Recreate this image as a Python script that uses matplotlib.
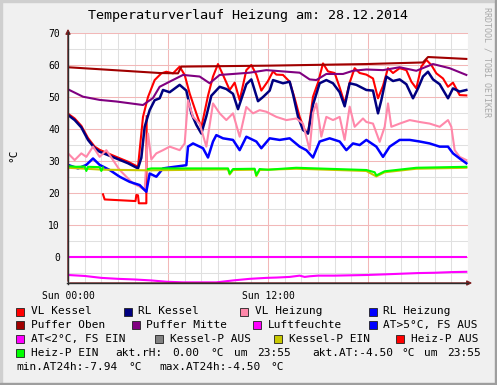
import numpy as np
import matplotlib
matplotlib.use("Agg")
import matplotlib.pyplot as plt
from matplotlib.patches import Rectangle

# ---------------- data (hours since Sun 00:00, °C) ----------------
vl_kessel_t = [0, 0.4, 0.8, 1.2, 1.6, 1.9, 2.9, 3.6, 4.2, 4.5, 4.8, 5.2, 5.6, 5.9, 6.3, 6.7, 7.0, 7.3, 7.7, 8.0,
               8.4, 8.7, 9.0, 9.3, 9.7, 10.0, 10.3, 10.7, 11.0, 11.3, 11.6, 12.0, 12.3, 12.5, 12.9, 13.3, 13.6,
               13.9, 14.2, 14.4, 14.7, 15.0, 15.3, 15.6, 16.0, 16.3, 16.6, 16.9, 17.2, 17.5, 17.9, 18.3, 18.6,
               18.9, 19.2, 19.5, 19.9, 20.3, 20.6, 20.9, 21.2, 21.5, 21.8, 22.1, 22.5, 22.8, 23.1, 23.5, 23.9]
vl_kessel_v = [44.8, 43.3, 41.0, 37.2, 34.5, 33.5, 31.3, 29.8, 28.2, 43.8, 50.0, 55.3, 57.4, 57.9, 57.4, 59.5, 56.9,
               51.1, 44.9, 40.5, 50.4, 56.4, 60.3, 56.9, 52.2, 54.5, 49.0, 58.4, 60.0, 57.0, 52.0, 55.0, 58.0, 57.0,
               56.9, 54.8, 49.6, 43.8, 39.7, 38.6, 50.1, 54.5, 60.5, 58.0, 57.5, 53.0, 48.0, 54.5, 59.0, 57.5, 57.0,
               55.8, 49.6, 53.5, 59.0, 57.5, 59.0, 58.4, 54.8, 52.7, 59.5, 61.6, 60.0, 57.4, 55.8, 53.2, 54.5, 50.6,
               50.5]

rl_kessel_t = [0, 0.4, 0.8, 1.2, 1.6, 1.9, 2.9, 3.6, 4.2, 4.4, 4.6, 4.9, 5.2, 5.5, 5.7, 6.1, 6.7, 7.1, 7.4, 7.7,
               8.0, 8.3, 8.6, 9.1, 9.5, 9.9, 10.2, 10.7, 11.0, 11.4, 11.7, 12.1, 12.3, 12.9, 13.3, 13.5, 13.8,
               14.1, 14.4, 14.7, 15.1, 15.5, 15.9, 16.3, 16.6, 16.9, 17.3, 17.9, 18.3, 18.6, 18.8, 19.1, 19.5,
               19.9, 20.3, 20.7, 21.0, 21.3, 21.6, 21.9, 22.3, 22.8, 23.1, 23.5, 23.9]
rl_kessel_v = [44.4, 42.8, 40.5, 36.6, 34.0, 32.9, 30.8, 29.3, 27.7, 31.0, 40.7, 45.9, 49.0, 49.6, 52.2, 51.5, 53.8,
               52.0, 44.9, 41.3, 38.6, 44.0, 50.4, 53.2, 52.5, 51.0, 46.2, 54.0, 55.5, 48.7, 50.0, 52.0, 55.3, 54.3,
               54.8, 50.9, 43.9, 39.7, 38.6, 47.6, 54.3, 55.3, 54.3, 51.5, 47.1, 54.3, 53.8, 52.2, 52.0, 44.9, 49.0,
               56.4, 55.0, 55.5, 54.0, 49.6, 52.7, 56.4, 57.9, 55.5, 54.0, 49.6, 52.7, 51.7, 52.2]

vl_heizung_t = [0, 0.4, 0.8, 1.1, 1.5, 1.9, 2.3, 2.7, 3.1, 3.5, 3.9, 4.3, 4.6, 4.8, 5.0, 5.3, 5.7, 6.1, 6.7, 7.0,
                7.2, 7.5, 7.9, 8.3, 8.7, 9.1, 9.5, 9.9, 10.3, 10.7, 11.1, 11.5, 11.9, 12.5, 13.1, 13.7, 14.1, 14.5,
                14.7, 14.9, 15.2, 15.5, 15.9, 16.3, 16.6, 16.9, 17.2, 17.7, 17.9, 18.3, 18.7, 19.0, 19.2, 19.4,
                19.9, 20.5, 21.1, 21.7, 22.3, 22.8, 23.0, 23.2, 23.5, 23.9]
vl_heizung_v = [32.4, 30.3, 32.4, 31.3, 34.5, 31.3, 33.4, 30.3, 27.2, 25.1, 23.0, 22.0, 20.9, 38.6, 30.5, 32.4,
                33.4, 34.5, 33.4, 35.5, 49.0, 43.8, 41.7, 34.5, 48.0, 44.9, 42.8, 44.9, 37.6, 46.9, 44.9, 45.9,
                45.4, 43.8, 42.8, 43.3, 41.7, 33.4, 45.0, 48.0, 37.6, 43.8, 42.8, 43.8, 36.6, 47.0, 40.7, 43.3,
                42.2, 41.7, 36.0, 40.7, 48.0, 40.7, 41.7, 42.8, 42.2, 41.7, 40.7, 42.8, 40.7, 33.4, 31.3, 30.3]

rl_heizung_t = [0, 0.6, 1.1, 1.5, 1.9, 2.5, 3.1, 3.7, 4.3, 4.7, 4.9, 5.3, 5.7, 6.1, 7.1, 7.2, 7.5, 8.1, 8.4, 8.7,
                8.9, 9.3, 9.9, 10.3, 10.7, 11.3, 11.6, 12.1, 12.7, 13.3, 13.9, 14.3, 14.7, 15.1, 15.7, 16.3, 16.7,
                17.1, 17.5, 17.9, 18.5, 18.9, 19.3, 19.9, 20.5, 21.1, 21.7, 22.3, 22.8, 23.1, 23.5, 23.9]
rl_heizung_v = [28.8, 27.7, 28.8, 30.8, 28.8, 27.2, 25.1, 23.5, 22.5, 20.4, 26.1, 25.1, 27.7, 28.0, 28.7, 34.5,
                35.5, 34.0, 31.1, 36.1, 38.1, 37.1, 36.6, 33.4, 37.6, 36.1, 34.0, 37.1, 36.6, 37.1, 34.5, 33.4,
                31.1, 36.1, 37.1, 36.1, 33.4, 35.5, 35.0, 36.6, 34.5, 31.3, 34.5, 36.6, 36.6, 36.1, 35.5, 34.5,
                34.5, 32.4, 30.8, 29.3]

puffer_oben_t = [0, 5.5, 6.6, 6.8, 12.0, 17.9, 21.3, 21.6, 23.9]
puffer_oben_v = [59.3, 57.5, 57.4, 59.5, 59.8, 60.3, 60.8, 62.5, 61.9]

puffer_mitte_t = [0, 0.9, 1.9, 2.9, 4.5, 5.1, 5.5, 6.1, 6.9, 7.9, 8.5, 9.1, 9.9, 10.9, 11.9, 13.9, 14.5, 14.9,
                  15.5, 16.5, 17.1, 17.9, 18.9, 19.9, 20.9, 21.9, 22.9, 23.9]
puffer_mitte_v = [52.4, 50.1, 49.1, 48.6, 47.5, 49.7, 53.2, 54.8, 56.9, 56.4, 54.3, 56.9, 57.2, 57.6, 58.4, 57.6,
                  55.5, 55.3, 57.2, 57.2, 58.2, 58.6, 58.4, 59.3, 58.2, 60.3, 59.0, 56.9]

luftfeuchte_t = [0, 23.9]
luftfeuchte_v = [0.0, 0.0]

at_t = [0, 1, 2, 3, 4, 5, 5.9, 6.9, 8, 8.9, 9.9, 10.9, 11.9, 12.5, 13.3, 13.9, 14.2, 14.5, 15, 16, 17.9, 19,
        20, 21, 22, 23, 23.9]
at_v = [-5.6, -5.9, -6.5, -6.8, -7.0, -7.3, -7.7, -7.9, -7.9, -7.9, -7.3, -6.8, -6.5, -6.4, -6.2, -5.8, -6.2,
        -6.0, -5.8, -5.8, -5.6, -5.4, -5.2, -5.0, -4.9, -4.7, -4.6]

kessel_p_ein_t = [0, 2.1, 4.8, 9.6, 9.7, 9.9, 11.2, 11.3, 11.5, 13.7, 17.9, 18.5, 19.0, 20.9, 23.9]
kessel_p_ein_v = [27.9, 27.3, 27.1, 27.4, 25.8, 27.2, 27.3, 25.3, 27.2, 27.6, 26.9, 25.2, 26.5, 27.6, 27.9]

heiz_p_ein_t = [0, 0.5, 1.0, 1.1, 1.2, 1.9, 2.0, 2.1, 2.15, 4.8, 5.0, 6.0, 9.6, 9.7, 9.9, 11.2, 11.3, 11.5, 12.0,
                13.7, 17.9, 18.4, 18.5, 19.0, 20.9, 23.9]
heiz_p_ein_v = [28.4, 28.2, 28.3, 26.9, 28.2, 28.1, 26.9, 28.0, np.nan, 27.5, 27.7, 27.7, 27.7, 26.1, 27.5, 27.6,
                25.6, 27.5, 27.3, 27.9, 27.2, 26.5, 25.5, 26.8, 27.9, 28.2]

heiz_p_aus_t = [2.1, 2.2, 4.05, 4.1, 4.2, 4.25, 4.7, 4.72]
heiz_p_aus_v = [19.6, 18.0, 17.5, 19.4, 19.3, 16.8, 16.8, 44.0]

x_tick_labels = ["Sun 00:00", "", "Sun 12:00", "", ""]
y_tick_values = [0, 10, 20, 30, 40, 50, 60, 70]

# ---------------- layout ----------------
W, H = 497, 385
MONO = "DejaVu Sans Mono"


def fx(x):
    return x / W


def fy(y):
    return 1 - y / H


fig = plt.figure(figsize=(W / 100, H / 100), dpi=100, facecolor="#F0F0F0")

# 3D frame
fig.patches.append(Rectangle((0, fy(2)), 1, 2 / H, transform=fig.transFigure, color="#CFCFCF", zorder=0))
fig.patches.append(Rectangle((0, 0), 2 / W, 1, transform=fig.transFigure, color="#CFCFCF", zorder=0))
fig.patches.append(Rectangle((0, 0), 1, 2 / H, transform=fig.transFigure, color="#9E9E9E", zorder=0))
fig.patches.append(Rectangle((1 - 2 / W, 0), 2 / W, 1, transform=fig.transFigure, color="#9E9E9E", zorder=0))

ax = fig.add_axes([fx(68), fy(283), 400 / W, 250 / H])
ax.set_facecolor("white")
ax.set_xlim(0, 24)
ax.set_ylim(-8.1, 70)
for s in ax.spines.values():
    s.set_visible(False)

# grid
ax.set_xticks([0, 6, 12, 18, 24])
ax.set_xticks(np.arange(0, 24.01, 1), minor=True)
ax.set_yticks(y_tick_values)
ax.set_yticks(np.arange(-5, 70.1, 5), minor=True)
ax.grid(which="minor", color="#E0E0E0", linewidth=0.75, zorder=0)
ax.grid(which="major", color="#F2B8B8", linewidth=0.75, zorder=0.5)
ax.set_axisbelow(True)
ax.set_xticklabels(x_tick_labels, fontsize=7, family=MONO)
ax.set_yticklabels([str(v) for v in y_tick_values], fontsize=7, family=MONO)
ax.tick_params(axis="both", which="both", length=0)
ax.tick_params(axis="y", pad=5.8)
ax.tick_params(axis="x", pad=5.5)

lw = 1.5
ax.plot(vl_kessel_t, vl_kessel_v, color="#FF0000", lw=lw, zorder=3)
ax.plot(heiz_p_aus_t, heiz_p_aus_v, color="#FF0000", lw=lw, zorder=3)
ax.plot(rl_kessel_t, rl_kessel_v, color="#000080", lw=1.8, zorder=3)
ax.plot(vl_heizung_t, vl_heizung_v, color="#FF88AA", lw=lw, zorder=3)
ax.plot(rl_heizung_t, rl_heizung_v, color="#0000FF", lw=1.8, zorder=3)
ax.plot(puffer_oben_t, puffer_oben_v, color="#A00000", lw=lw, zorder=3)
ax.plot(puffer_mitte_t, puffer_mitte_v, color="#800080", lw=lw, zorder=3)
ax.plot(luftfeuchte_t, luftfeuchte_v, color="#FF00FF", lw=lw, zorder=3)
ax.plot(at_t, at_v, color="#FF00FF", lw=lw, zorder=3)
ax.plot(kessel_p_ein_t, kessel_p_ein_v, color="#C8C800", lw=lw, zorder=3)
ax.plot(heiz_p_ein_t, heiz_p_ein_v, color="#00FF00", lw=lw, zorder=3)

# axes lines with arrows
ax.annotate("", xy=(fx(68), fy(26)), xytext=(fx(68), fy(284)), xycoords="figure fraction",
            arrowprops=dict(arrowstyle="-|>", color="#7F1F1F", lw=1, mutation_scale=7), zorder=5)
ax.annotate("", xy=(fx(475), fy(283)), xytext=(fx(67), fy(283)), xycoords="figure fraction",
            arrowprops=dict(arrowstyle="-|>", color="#7F1F1F", lw=1, mutation_scale=7), zorder=5)
fig.add_artist(plt.Line2D([fx(68), fx(68)], [fy(284), fy(32)], color="#2C2C2C", lw=1))
fig.add_artist(plt.Line2D([fx(67), fx(468)], [fy(283), fy(283)], color="#2C2C2C", lw=1))

# texts
fig.text(fx(248), fy(16), "Temperaturverlauf Heizung am: 28.12.2014", ha="center", va="center",
         fontsize=9.6, family=MONO)
fig.text(fx(13), fy(155), "°C", rotation=90, ha="center", va="center", fontsize=8, family=MONO)
fig.text(fx(487), fy(7), "RRDTOOL / TOBI OETIKER", rotation=270, ha="center", va="top",
         fontsize=6, family=MONO, color="#A8A8A8")

legend_items = [
    (16, 311.5, "#FF0000", "VL Kessel"),
    (123.5, 311.5, "#000080", "RL Kessel"),
    (240, 311.5, "#FF88AA", "VL Heizung"),
    (368.5, 311.5, "#0000FF", "RL Heizung"),
    (16, 325.3, "#A00000", "Puffer Oben"),
    (131.5, 325.3, "#800080", "Puffer Mitte"),
    (253, 325.3, "#FF00FF", "Luftfeuchte"),
    (368.5, 325.3, "#0000FF", "AT>5°C, FS AUS"),
    (16, 339, "#FF00FF", "AT<2°C, FS EIN"),
    (155, 339, "#808080", "Kessel-P AUS"),
    (274.3, 339, "#C8C800", "Kessel-P EIN"),
    (396.3, 339, "#FF0000", "Heiz-P AUS"),
    (16, 352.8, "#00FF00", "Heiz-P EIN"),
]
for x, y, c, label in legend_items:
    fig.patches.append(Rectangle((fx(x), fy(y + 4)), 8 / W, 8 / H, transform=fig.transFigure,
                                 facecolor=c, edgecolor="#202020", lw=0.6, zorder=2))
    fig.text(fx(x + 14.7), fy(y), label, ha="left", va="center", fontsize=8, family=MONO)

# justified text pieces of the GPRINT lines
gprint_pieces = [
    (115, 352.8, "akt.rH:"), (172.5, 352.8, "0.00"), (210, 352.8, "°C"), (234, 352.8, "um"),
    (257.5, 352.8, "23:55"),
    (312.7, 352.8, "akt.AT:-4.50"), (401, 352.8, "°C"), (424, 352.8, "um"), (447, 352.8, "23:55"),
    (16, 366.6, "min.AT24h:-7.94"), (128.3, 366.6, "°C"),
    (159, 366.6, "max.AT24h:-4.50"), (270, 366.6, "°C"),
]
for x, y, s in gprint_pieces:
    fig.text(fx(x), fy(y), s, ha="left", va="center", fontsize=8, family=MONO)

fig.savefig("out.png", dpi=100, facecolor=fig.get_facecolor())
